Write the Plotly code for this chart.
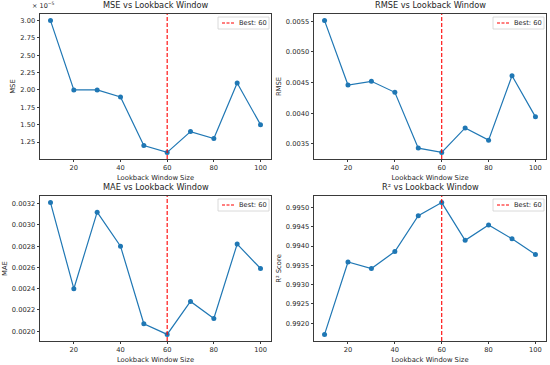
import numpy as np
import plotly.graph_objects as go

windows = [10, 20, 30, 40, 50, 60, 70, 80, 90, 100]
mse = [3.00e-5, 2.00e-5, 2.00e-5, 1.90e-5, 1.20e-5, 1.10e-5, 1.40e-5, 1.30e-5, 2.10e-5, 1.50e-5]
rmse = [0.00551, 0.00446, 0.00452, 0.00434, 0.00343, 0.00336, 0.00376, 0.00356, 0.00461, 0.00394]
mae = [0.00321, 0.00240, 0.00312, 0.00280, 0.00207, 0.00197, 0.00228, 0.00212, 0.00282, 0.00259]
r2 = [0.99171, 0.99359, 0.99342, 0.99386, 0.99479, 0.99513, 0.99415, 0.99455, 0.99419, 0.99378]

titles = ["MSE vs Lookback Window", "RMSE vs Lookback Window",
          "MAE vs Lookback Window", "R² vs Lookback Window"]
ylabels = ["MSE", "RMSE", "MAE", "R² Score"]
xlabel = "Lookback Window Size"

mse_ticks = [1.25, 1.50, 1.75, 2.00, 2.25, 2.50, 2.75, 3.00]
rmse_ticks = [0.0035, 0.0040, 0.0045, 0.0050, 0.0055]
mae_ticks = [0.0020, 0.0022, 0.0024, 0.0026, 0.0028, 0.0030, 0.0032]
r2_ticks = [0.9920, 0.9925, 0.9930, 0.9935, 0.9940, 0.9945, 0.9950]
x_ticks = [20, 40, 60, 80, 100]

best = windows[int(np.argmin(mse))]

W, H = 550, 365
BLUE = "#1f77b4"
FONT = "DejaVu Sans"
TXT = "#262626"
AX = "#3a3a3a"

# axes boxes in pixels: (left, right, top, bottom)
boxes = [(40, 271, 14, 159), (314, 546, 14, 159),
         (40, 271, 196, 341), (314, 546, 196, 341)]

series = [mse, rmse, mae, r2]
tickvals = [[t * 1e-5 for t in mse_ticks], rmse_ticks, mae_ticks, r2_ticks]
ticktexts = [[f"{t:.2f}" for t in mse_ticks], [f"{t:.4f}" for t in rmse_ticks],
             [f"{t:.4f}" for t in mae_ticks], [f"{t:.4f}" for t in r2_ticks]]

fig = go.Figure()
xr = (min(windows) - 0.05 * (max(windows) - min(windows)),
      max(windows) + 0.05 * (max(windows) - min(windows)))
annotations = []
shapes = []
for i, (ys, box) in enumerate(zip(series, boxes)):
    n = "" if i == 0 else str(i + 1)
    l, r, t, b = box
    lo, hi = min(ys), max(ys)
    pad = 0.05 * (hi - lo)
    yr = (lo - pad, hi + pad)
    fig.add_trace(go.Scatter(
        x=windows, y=ys, mode="lines+markers", xaxis="x" + n, yaxis="y" + n,
        line=dict(color=BLUE, width=1.2), marker=dict(color=BLUE, size=5),
        showlegend=False))
    fig.add_trace(go.Scatter(
        x=[best, best], y=list(yr), mode="lines", xaxis="x" + n, yaxis="y" + n,
        line=dict(color="red", width=1.1, dash="4px,2px"),
        name=f"Best: {best}", showlegend=False))
    common = dict(showline=True, mirror=True, linecolor=AX, linewidth=0.9,
                  ticks="outside", ticklen=2.5, tickwidth=0.8, tickcolor=AX,
                  showgrid=False, zeroline=False, automargin=False,
                  tickfont=dict(family=FONT, size=6.7, color=TXT))
    fig.layout["xaxis" + n] = dict(
        domain=[l / W, r / W], range=list(xr), anchor="y" + n,
        tickvals=x_ticks, title=dict(text=xlabel, standoff=3,
                                     font=dict(family=FONT, size=6.8, color=TXT)),
        **common)
    fig.layout["yaxis" + n] = dict(
        domain=[1 - b / H, 1 - t / H], range=list(yr), anchor="x" + n,
        tickvals=tickvals[i], ticktext=ticktexts[i],
        title=dict(text=ylabels[i], standoff=3,
                   font=dict(family=FONT, size=6.8, color=TXT)),
        **common)
    # legend box (drawn manually to match the compact matplotlib legend)
    lx0, lx1, ly0, ly1 = r - 53, r - 2, t + 3, t + 15
    shapes.append(dict(type="rect", xref="paper", yref="paper",
                       x0=lx0 / W, x1=lx1 / W, y0=1 - ly1 / H, y1=1 - ly0 / H,
                       line=dict(color="#d0d0d0", width=0.8),
                       fillcolor="rgba(255,255,255,0.8)"))
    shapes.append(dict(type="line", xref="paper", yref="paper",
                       x0=(lx0 + 4) / W, x1=(lx0 + 16) / W,
                       y0=1 - (ly0 + ly1) / 2 / H, y1=1 - (ly0 + ly1) / 2 / H,
                       line=dict(color="red", width=1.1, dash="3px,1.5px")))
    annotations.append(dict(
        text=f"Best: {best}", xref="paper", yref="paper", x=(lx0 + 19) / W,
        y=1 - (ly0 + ly1) / 2 / H, xanchor="left", yanchor="middle",
        showarrow=False, font=dict(family=FONT, size=6.7, color=TXT)))
    annotations.append(dict(
        text=titles[i], xref="paper", yref="paper", x=(l + r) / 2 / W,
        y=1 - (t - 2) / H, xanchor="center", yanchor="bottom", showarrow=False,
        font=dict(family=FONT, size=8.2, color=TXT)))

annotations.append(dict(
    text="× 10<sup>−5</sup>", xref="paper", yref="paper", x=30 / W, y=1 - 12 / H,
    xanchor="left", yanchor="bottom", showarrow=False,
    font=dict(family=FONT, size=6.5, color=TXT)))

fig.update_layout(width=W, height=H, margin=dict(l=0, r=0, t=0, b=0),
                  paper_bgcolor="white", plot_bgcolor="white", showlegend=False,
                  annotations=annotations, shapes=shapes, font=dict(family=FONT))
fig.write_html("out.html", config={"displayModeBar": False},
               post_script="document.body.style.margin='0';"
                           "document.body.style.overflow='hidden';")
